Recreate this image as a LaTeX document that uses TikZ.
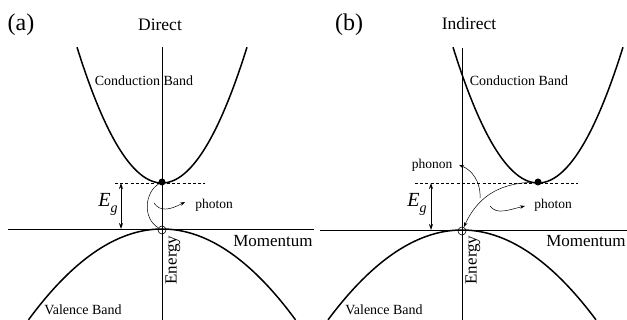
\documentclass[tikz,border=0pt]{standalone}
\usepackage{fontspec}
\setmainfont{Liberation Serif}
\usetikzlibrary{arrows.meta}
\begin{document}
\begin{tikzpicture}[x=1pt,y=-1pt,
  band/.style={line width=1.5pt},
  axis/.style={line width=0.8pt},
  trans/.style={line width=0.5pt},
  gap/.style={line width=0.6pt, dash pattern=on 3pt off 2.2pt},
  egarrow/.style={line width=0.8pt, {Stealth[length=6pt,width=4pt]}-{Stealth[length=6pt,width=4pt]}},
  tip/.style={-{Stealth[length=5pt,width=3.5pt]}},
  panel/.style={inner sep=0pt, font=\fontsize{24}{26}\selectfont},
  title/.style={inner sep=0pt, font=\fontsize{17.5}{19}\selectfont},
  axlbl/.style={inner sep=0pt, font=\fontsize{17}{19}\selectfont},
  bandlbl/.style={inner sep=0pt, font=\fontsize{14}{16}\selectfont},
  small/.style={inner sep=0pt, font=\fontsize{13.5}{15}\selectfont},
  eg/.style={inner sep=0pt, font=\fontsize{20}{22}\selectfont},
  electron/.style={circle, fill, inner sep=0pt, minimum size=7pt},
  hole/.style={circle, draw, line width=0.6pt, inner sep=0pt, minimum size=8pt}
]
\useasboundingbox (0,0) rectangle (627,320);

% ---------------- Panel (a) ----------------
\node[panel] (labA) at (21,25) {(a)};
\node[title] (titA) at (160,25) {Direct};
\node[bandlbl] (cbA) at (144,81) {Conduction Band};
\node[bandlbl] (vbA) at (83,310) {Valence Band};
\node[axlbl] (momA) at (273,241) {Momentum};
\node[axlbl, rotate=90] (enA) at (173,260) {Energy};
\node[small] (phA) at (214,205) {photon};
\node[eg] (egA) at (108,204) {\textit{E}\raisebox{-0.3em}{\fontsize{14}{16}\selectfont\textit{g}}};

\draw[axis] (8,229) -- (314,229);
\draw[axis] (162,47) -- (162,320);
\draw[band] plot[domain=77:247,samples=80,smooth] (\x,{183-0.0188*(\x-162)*(\x-162)});
\draw[band] plot[domain=28.5:295.5,samples=80,smooth] (\x,{229+0.0051*(\x-162)*(\x-162)});
\draw[gap] (115,183) -- (205,183);
\coordinate (egTopA) at (121,183);
\coordinate (egBotA) at (121,229);
\draw[egarrow] (egTopA) -- (egBotA);
\node[electron] (eA) at (162,182) {};
\node[hole] (hA) at (162,230) {};
\draw[trans] (eA) .. controls (145,192) and (142,218) .. (hA);
\coordinate (pwA1) at (154,203);
\coordinate (pwA2) at (185,202);
\draw[trans, tip] (pwA1) .. controls (160,212) and (170,210) .. (pwA2);

% ---------------- Panel (b) ----------------
\node[panel] (labB) at (349,25) {(b)};
\node[title] (titB) at (469,24) {Indirect};
\node[bandlbl] (cbB) at (519,81) {Conduction Band};
\node[bandlbl] (vbB) at (384,310) {Valence Band};
\node[axlbl] (momB) at (586,241) {Momentum};
\node[axlbl, rotate=90] (enB) at (473,260) {Energy};
\node[small] (phB) at (553,205) {photon};
\node[small] (pnB) at (432,165) {phonon};
\node[eg] (egB) at (417,204) {\textit{E}\raisebox{-0.3em}{\fontsize{14}{16}\selectfont\textit{g}}};

\draw[axis] (320,230) -- (627,230);
\draw[axis] (462,48) -- (462,320);
\draw[band] plot[domain=453:623,samples=80,smooth] (\x,{183-0.0188*(\x-538)*(\x-538)});
\draw[band] plot[domain=328:596,samples=80,smooth] (\x,{230+0.0050*(\x-462)*(\x-462)});
\draw[gap] (415,183) -- (578,183);
\coordinate (egTopB) at (431,183);
\coordinate (egBotB) at (431,230);
\draw[egarrow] (egTopB) -- (egBotB);
\node[electron] (eB) at (538,182) {};
\node[hole] (hB) at (462,231) {};
\draw[trans, tip] (eB) .. controls (505,183) and (480,192) .. (hB);
\coordinate (pnS) at (480,198);
\coordinate (pnE) at (459,165);
\draw[trans, tip] (pnS) .. controls (481,182) and (472,170) .. (pnE);
\coordinate (pwB1) at (490,206);
\coordinate (pwB2) at (525,206);
\draw[trans, tip] (pwB1) .. controls (497,215) and (508,210) .. (pwB2);
\end{tikzpicture}
\end{document}
